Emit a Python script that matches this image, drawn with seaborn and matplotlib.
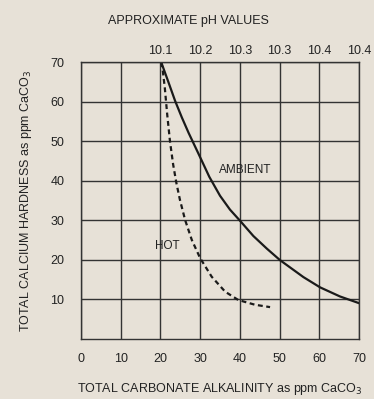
import numpy as np
import pandas as pd
import seaborn as sns
import matplotlib.pyplot as plt

# values
ambient_x = [20.2, 22.0, 23.7, 25.4, 27.1, 29.6, 32.3, 35.0, 37.5, 40.1,
             43.4, 46.8, 50.1, 56.0, 60.2, 65.2, 70.0]
ambient_y = [70.0, 65.0, 60.2, 56.0, 52.1, 46.8, 41.0, 36.2, 32.7, 29.8,
             26.0, 22.8, 19.9, 15.6, 13.0, 10.7, 9.0]
hot_x = [20.2, 20.5, 21.1, 21.7, 22.4, 23.2, 24.0, 24.9, 26.2, 27.9, 30.0,
         32.9, 36.3, 39.6, 43.8, 47.6]
hot_y = [70.0, 68.6, 63.5, 56.8, 50.0, 44.1, 39.5, 35.2, 30.1, 25.0, 20.4,
         15.7, 11.9, 9.8, 8.6, 8.0]
ph_pos = [20, 30, 40, 50, 60, 70]
ph_labels = ["10.1", "10.2", "10.3", "10.3", "10.4", "10.4"]

bg = "#e7e1d7"
ink = "#1a1a1a"

sns.set_style("white")
plt.rcParams['font.family'] = ['Liberation Sans', 'DejaVu Sans']

fig = plt.figure(figsize=(3.74, 3.99), dpi=100, facecolor=bg)
ax = fig.add_axes([0.2166, 0.1511, 0.7434, 0.6928])
ax.set_facecolor(bg)

amb = pd.DataFrame({"x": ambient_x, "y": ambient_y})
hot = pd.DataFrame({"x": hot_x, "y": hot_y})
sns.lineplot(data=amb, x="x", y="y", ax=ax, color=ink, lw=1.6)
sns.lineplot(data=hot, x="x", y="y", ax=ax, color=ink, lw=1.6,
             linestyle=(0, (2.2, 1.6)))

ax.set_xlim(0, 70)
ax.set_ylim(0, 70)
ax.set_xticks(range(0, 71, 10))
ax.set_yticks(range(10, 71, 10))
ax.grid(True, color="#333333", lw=1.0)
for s in ax.spines.values():
    s.set_visible(True)
    s.set_color("#333333")
    s.set_linewidth(1.0)
ax.tick_params(length=0, labelsize=9, colors="#222222")
ax.tick_params(axis="x", pad=10)
ax.tick_params(axis="y", pad=12)

top = ax.secondary_xaxis("top")
top.set_xticks(ph_pos)
top.set_xticklabels(ph_labels)
top.tick_params(length=0, labelsize=9, colors="#222222", pad=4)
top.spines["top"].set_visible(False)

ax.set_xlabel("TOTAL CARBONATE ALKALINITY as ppm CaCO$_3$", fontsize=9,
              color="#222222", labelpad=12)
ax.set_ylabel("TOTAL CALCIUM HARDNESS as ppm CaCO$_3$", fontsize=9,
              color="#222222", labelpad=12)
fig.text(0.505, 1 - 21 / 399, "APPROXIMATE pH VALUES", ha="center",
         va="center", fontsize=9, color="#222222")

ax.text(41.4, 42.7, "AMBIENT", ha="center", va="center", fontsize=8.5,
        color="#222222")
ax.text(21.7, 23.5, "HOT", ha="center", va="center", fontsize=8.5,
        color="#222222")

fig.savefig("out.png", dpi=100, facecolor=bg)
